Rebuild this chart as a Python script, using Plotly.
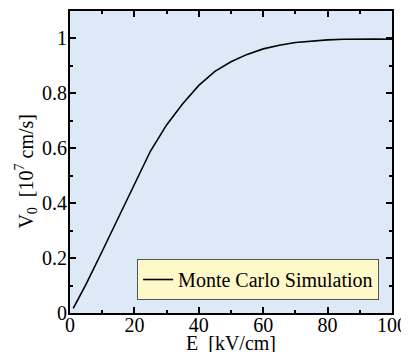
import plotly.graph_objects as go

E = [1, 5, 10, 15, 20, 25, 30, 35, 40, 45, 50, 55, 60, 65, 70, 75, 80, 85, 90, 95, 100]
V0 = [0.017, 0.105, 0.225, 0.345, 0.47, 0.59, 0.685, 0.762, 0.829, 0.88, 0.915, 0.942, 0.962, 0.975, 0.985, 0.99, 0.995, 0.997, 0.998, 0.998, 0.997]
xticks = [0, 20, 40, 60, 80, 100]
yticks = [0, 0.2, 0.4, 0.6, 0.8, 1]
yticklabels = ["0", "0.2", "0.4", "0.6", "0.8", "1"]

font = "Liberation Serif"

fig = go.Figure()
fig.add_trace(go.Scatter(x=E, y=V0, mode="lines", name="Monte Carlo Simulation",
                         line=dict(color="black", width=1.6)))

axis_common = dict(showgrid=False, zeroline=False, showline=True, linecolor="black",
                   linewidth=2, mirror="allticks", ticks="inside", ticklen=6, tickwidth=1.5,
                   tickcolor="black", automargin=False,
                   tickfont=dict(family=font, size=20, color="black"))

fig.update_xaxes(range=[0, 100], tickvals=xticks, ticklabelstandoff=-7, **axis_common,
                 minor=dict(ticks="inside", ticklen=3, tickwidth=1.5, tickcolor="black", dtick=10, tick0=0))
fig.update_yaxes(range=[0, 1.1], tickvals=yticks, ticktext=yticklabels, ticklabelstandoff=-3, **axis_common,
                 minor=dict(ticks="inside", ticklen=3, tickwidth=1.5, tickcolor="black", dtick=0.1, tick0=0))

fig.add_annotation(text="E  [kV/cm]", xref="paper", yref="paper", x=0.5, y=-0.1,
                   xanchor="center", yanchor="middle", showarrow=False,
                   font=dict(family=font, size=20, color="black"))
fig.add_annotation(text="V<sub>0</sub>  [10<sup>7</sup> cm/s]", xref="paper", yref="paper",
                   x=-0.135, y=0.47, xanchor="center", yanchor="middle", showarrow=False,
                   textangle=-90, font=dict(family=font, size=20, color="black"))

fig.update_layout(
    width=401, height=344,
    margin=dict(l=62, r=17, t=3, b=39, autoexpand=False),
    plot_bgcolor="#dde9f7", paper_bgcolor="white",
    showlegend=True,
    legend=dict(x=0.96, y=0.043, xanchor="right", yanchor="bottom",
                bgcolor="#fff8c8", bordercolor="#555555", borderwidth=1,
                font=dict(family=font, size=20, color="black")),
)

fig.write_html("out.html")
